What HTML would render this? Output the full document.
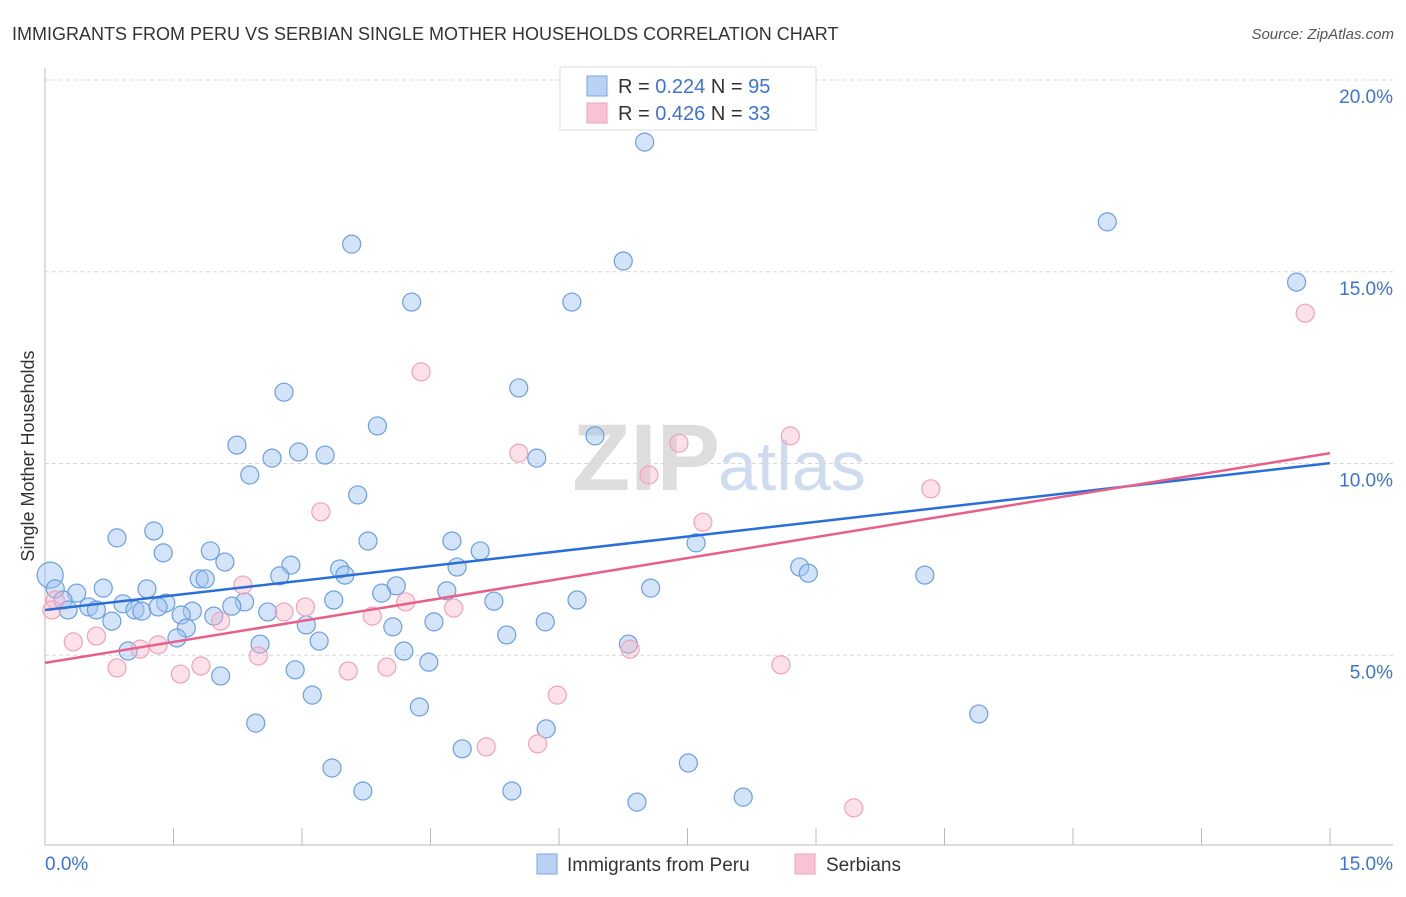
<!DOCTYPE html>
<html><head><meta charset="utf-8"><style>
body{margin:0;background:#fff;font-family:"Liberation Sans",sans-serif}
svg text{font-family:"Liberation Sans",sans-serif}
</style></head><body>
<svg id="chart" width="1406" height="892">
<text x="12" y="40" font-size="18" fill="#333">IMMIGRANTS FROM PERU VS SERBIAN SINGLE MOTHER HOUSEHOLDS CORRELATION CHART</text>
<text x="1394" y="39" font-size="15" fill="#555" font-style="italic" text-anchor="end">Source: ZipAtlas.com</text>
<text x="720" y="490" font-size="95" fill="#ddd" font-family="Liberation Serif" text-anchor="end" font-weight="bold">ZIP</text>
<text x="718" y="490" font-size="70" fill="#cfdcf0">atlas</text>
<g id="grid"></g><g id="pts"></g><g id="lines"></g>
<text transform="translate(34,456) rotate(-90)" font-size="18" fill="#333" text-anchor="middle">Single Mother Households</text>
<g>
<rect x="560" y="67" width="256" height="63" fill="#fff" stroke="#ddd"/>
<rect x="587" y="76" width="20" height="20" fill="#b8d2f4" stroke="#7aa6e0"/>
<rect x="587" y="103" width="20" height="20" fill="#f8c4d4" stroke="#eea2ba"/>
<text x="618" y="93" font-size="20" fill="#333">R = <tspan fill="#3b74d8">0.224</tspan>   N = <tspan fill="#3b74d8">95</tspan></text>
<text x="618" y="120" font-size="20" fill="#333">R = <tspan fill="#3b74d8">0.426</tspan>   N = <tspan fill="#3b74d8">33</tspan></text>
</g>
<g>
<rect x="537" y="854" width="20" height="20" fill="#b8d2f4" stroke="#7aa6e0"/>
<text x="567" y="871" font-size="19" fill="#333">Immigrants from Peru</text>
<rect x="795" y="854" width="20" height="20" fill="#f8c4d4" stroke="#eea2ba"/>
<text x="826" y="871" font-size="19" fill="#333">Serbians</text>
</g>
</svg>
<script>
const yTicks=[5,10,15,20];
const xTickLabels=["0.0%","15.0%"];
const blueX=[7.00,12.40,3.58,6.75,14.61,4.28,6.15,2.79,5.53,3.88,6.42,2.24,2.65,2.96,3.27,5.74,2.39,3.65,1.27,0.84,3.77,4.75,7.60,1.38,1.93,5.08,2.10,2.87,3.44,4.81,8.81,8.91,10.27,2.74,3.50,1.80,1.87,1.19,0.68,0.37,4.10,3.93,4.69,7.07,0.06,0.12,0.21,0.91,1.41,3.37,2.33,5.24,6.21,0.51,0.27,0.60,1.05,1.13,1.32,1.72,2.18,2.60,1.59,1.97,3.05,4.06,4.54,5.84,0.78,1.65,1.54,3.20,5.39,6.81,2.51,4.19,0.97,4.48,2.92,2.05,3.12,4.37,10.90,2.46,5.85,4.87,7.51,3.35,5.45,3.71,8.15,6.91];
const blueY=[18.38,16.30,15.72,15.28,14.73,14.21,14.21,11.86,11.97,10.98,10.72,10.48,10.14,10.30,10.22,10.14,9.70,9.18,8.24,8.06,7.98,7.98,7.93,7.67,7.72,7.72,7.43,7.35,7.25,7.30,7.30,7.14,7.09,7.07,7.09,6.99,6.99,6.73,6.75,6.62,6.81,6.62,6.68,6.75,7.09,6.73,6.44,6.34,6.36,6.44,6.39,6.41,6.44,6.26,6.18,6.18,6.18,6.15,6.26,6.15,6.28,6.13,6.05,6.02,5.79,5.74,5.87,5.87,5.89,5.71,5.45,5.37,5.53,5.29,5.29,5.11,5.11,4.82,4.62,4.46,3.96,3.65,3.47,3.23,3.08,2.56,2.19,2.06,1.46,1.46,1.30,1.17];
const pinkX=[4.39,8.70,5.53,7.40,7.05,10.34,3.22,7.68,14.71,2.31,0.12,0.08,4.21,3.04,2.79,4.77,2.05,3.82,0.60,0.33,1.32,1.11,6.83,2.49,1.82,0.84,1.58,3.54,3.99,8.59,5.98,5.75,5.15,9.44];
const pinkY=[12.39,10.72,10.27,10.53,9.70,9.34,8.74,8.47,13.92,6.83,6.44,6.18,6.39,6.26,6.13,6.23,5.89,6.02,5.50,5.35,5.27,5.16,5.16,4.98,4.72,4.67,4.51,4.59,4.69,4.75,3.96,2.69,2.61,1.02];
const blueTrend=[6.18,10.01];
const pinkTrend=[4.80,10.27];
const NS="http://www.w3.org/2000/svg";
const X0=45,X1=1330,Y0=847,PY=38.35;
const sx=v=>X0+(v/15)*(X1-X0);
const sy=v=>Y0-v*PY;
function mk(tag,attrs,parent){const e=document.createElementNS(NS,tag);for(const k in attrs)e.setAttribute(k,attrs[k]);parent.appendChild(e);return e;}
const grid=document.getElementById('grid');
yTicks.forEach(t=>{
 const l=mk('line',{x1:45,x2:1393,y1:sy(t),y2:sy(t),stroke:'#d8d8d8','stroke-dasharray':'4,3'},grid);
 
 
 const tx=mk('text',{x:1393,y:sy(t)+23,'font-size':19,fill:'#3b74d8','text-anchor':'end'},grid);
 tx.textContent=t.toFixed(1)+'%';
 
 
});
const ax=mk('line',{x1:45,x2:45,y1:68,y2:845,stroke:'#bbb'},grid);


const bx=mk('line',{x1:45,x2:1393,y1:845,y2:845,stroke:'#bbb'},grid);


for(let i=0;i<=10;i++){
 const x=sx(i*1.5);
 const t=mk('line',{x1:x,x2:x,y1:828,y2:845,stroke:'#bbb'},grid);
 
 
}
const xl0=mk('text',{x:45,y:870,'font-size':19,fill:'#3b74d8'},grid);
xl0.textContent=xTickLabels[0];


const xl1=mk('text',{x:1393,y:870,'font-size':19,fill:'#3b74d8','text-anchor':'end'},grid);
xl1.textContent=xTickLabels[1];


const pts=document.getElementById('pts');
blueX.forEach((v,i)=>{
 const c=mk('circle',{cx:sx(v),cy:sy(blueY[i]),r:i==44?13:9,fill:'rgba(160,196,240,0.45)',stroke:'#6c9fe0','stroke-width':1.2},pts);
 
 
});
pinkX.forEach((v,i)=>{
 const c=mk('circle',{cx:sx(v),cy:sy(pinkY[i]),r:9,fill:'rgba(248,180,200,0.4)',stroke:'#f0a2ba','stroke-width':1.2},pts);
 
 
});
const lines=document.getElementById('lines');
const bl=mk('line',{x1:sx(0),y1:sy(blueTrend[0]),x2:sx(15),y2:sy(blueTrend[1]),stroke:'#2a6fd6','stroke-width':2.5},lines);


const pl=mk('line',{x1:sx(0),y1:sy(pinkTrend[0]),x2:sx(15),y2:sy(pinkTrend[1]),stroke:'#e8608a','stroke-width':2.5},lines);


</script>
</body></html>
